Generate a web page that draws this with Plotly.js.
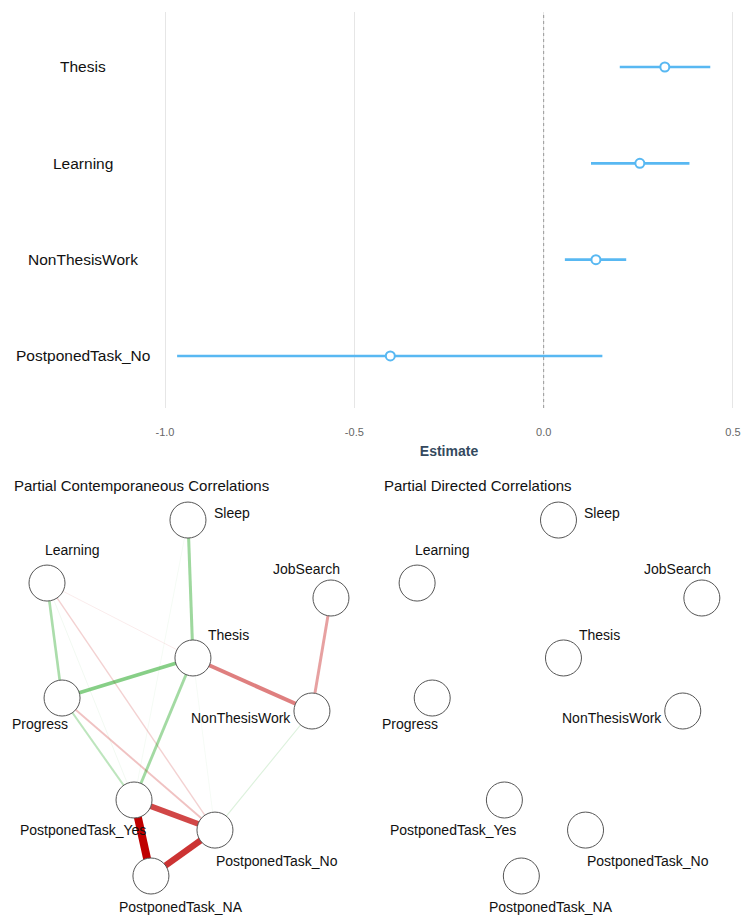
<!DOCTYPE html>
<html>
<head>
<meta charset="utf-8">
<script src="https://cdn.plot.ly/plotly-3.0.1.min.js"></script>
<style>
  html, body { margin: 0; padding: 0; background: #ffffff; }
  #chart { width: 742px; height: 918px; }
</style>
</head>
<body>
<div id="chart"></div>
<script>
// ---- Fixed-effect estimates with 95% intervals ----
const predictors = ["PostponedTask_No", "NonThesisWork", "Learning", "Thesis"];
const estimate   = [-0.405, 0.138, 0.254, 0.320];
const lower      = [-0.968, 0.056, 0.125, 0.201];
const upper      = [ 0.155, 0.218, 0.385, 0.440];
const xTickVals  = [-1, -0.5, 0, 0.5];
const xTickText  = ["-1.0", "-0.5", "0.0", "0.5"];

// ---- Network nodes (layout coordinates in [-1, 1]) ----
const nodeNames = ["Sleep", "Learning", "JobSearch", "Thesis", "Progress",
                   "NonThesisWork", "PostponedTask_Yes", "PostponedTask_No", "PostponedTask_NA"];
const nodeX = [-0.007, -1.000, 1.000, 0.028, -0.894, 0.866, -0.387, 0.183, -0.268];
const nodeY = [ 1.000,  0.646, 0.562, 0.225,  0.000, -0.073, -0.573, -0.742, -1.000];

// ---- Contemporaneous partial correlations (edge list) ----
const edgeFrom   = ["PostponedTask_Yes", "PostponedTask_No", "PostponedTask_Yes", "Thesis", "JobSearch",
                    "Progress", "Sleep", "Learning", "Thesis", "Progress", "Progress",
                    "Learning", "Learning", "NonThesisWork", "Learning", "Sleep", "Thesis"];
const edgeTo     = ["PostponedTask_NA", "PostponedTask_NA", "PostponedTask_No", "NonThesisWork", "NonThesisWork",
                    "Thesis", "Thesis", "Progress", "PostponedTask_Yes", "PostponedTask_Yes", "PostponedTask_No",
                    "PostponedTask_No", "Thesis", "PostponedTask_No", "PostponedTask_Yes", "PostponedTask_Yes", "PostponedTask_No"];
const edgeWeight = [-0.50, -0.40, -0.36, -0.25, -0.185,
                     0.235, 0.19, 0.165, 0.18, 0.13, -0.12,
                    -0.09, -0.05, 0.07, 0.035, 0.03, 0.025];

// ---- Directed (lagged) partial correlations: none retained ----
const directedFrom = [];
const directedTo = [];
const directedWeight = [];

// ---------------------------------------------------------------
const FONT = "Liberation Sans, Arial, Helvetica, sans-serif";
const BLUE = "#58b8f2";
const POS = [0, 153, 0];      // positive edge hue
const NEG = [191, 0, 0];      // negative edge hue
const MAXW = 0.5;
const NODE_SIZE = 36;

const yIndex = predictors.map((_, i) => i);

const traces = [];

// forest plot
traces.push({
  type: "scatter", mode: "markers",
  x: estimate, y: yIndex,
  xaxis: "x", yaxis: "y",
  error_x: {
    type: "data", symmetric: false,
    array: upper.map((u, i) => u - estimate[i]),
    arrayminus: lower.map((l, i) => estimate[i] - l),
    color: BLUE, thickness: 2.6, width: 0
  },
  marker: { size: 9, color: "#ffffff", line: { color: BLUE, width: 2 } },
  hoverinfo: "skip", showlegend: false
});

function edgeStyle(w) {
  const a = Math.min(1, Math.abs(w) / MAXW);
  const c = w > 0 ? POS : NEG;
  return {
    color: "rgba(" + c[0] + "," + c[1] + "," + c[2] + "," + a.toFixed(3) + ")",
    width: Math.max(0.8, 8 * a)
  };
}

function addNetwork(from, to, weight, xa, ya) {
  // edges drawn weakest first so strong edges sit on top
  const order = weight.map((w, i) => i).sort((a, b) => Math.abs(weight[a]) - Math.abs(weight[b]));
  order.forEach(i => {
    const s = nodeNames.indexOf(from[i]);
    const t = nodeNames.indexOf(to[i]);
    const st = edgeStyle(weight[i]);
    traces.push({
      type: "scatter", mode: "lines",
      x: [nodeX[s], nodeX[t]], y: [nodeY[s], nodeY[t]],
      xaxis: xa, yaxis: ya,
      line: { color: st.color, width: st.width },
      hoverinfo: "skip", showlegend: false
    });
  });
  traces.push({
    type: "scatter", mode: "markers",
    x: nodeX, y: nodeY, xaxis: xa, yaxis: ya,
    marker: { size: NODE_SIZE, color: "#ffffff", line: { color: "#555555", width: 1 } },
    hoverinfo: "skip", showlegend: false
  });
}

addNetwork(edgeFrom, edgeTo, edgeWeight, "x2", "y2");
addNetwork(directedFrom, directedTo, directedWeight, "x3", "y3");

// label placement around each node (pixels)
const labelPlace = {
  "Sleep":             { anchor: "left",   dx: 24,  dy: 7 },
  "Learning":          { anchor: "center", dx: 25,  dy: 33 },
  "JobSearch":         { anchor: "center", dx: -24, dy: 29 },
  "Thesis":            { anchor: "center", dx: 36,  dy: 23 },
  "Progress":          { anchor: "center", dx: -22, dy: -26 },
  "NonThesisWork":     { anchor: "right",  dx: -19, dy: -7 },
  "PostponedTask_Yes": { anchor: "center", dx: -51, dy: -30 },
  "PostponedTask_No":  { anchor: "center", dx: 62,  dy: -31 },
  "PostponedTask_NA":  { anchor: "center", dx: 30,  dy: -31 }
};

const annotations = [];

// predictor labels, centred in the left margin
predictors.forEach((p, i) => {
  annotations.push({
    xref: "paper", yref: "y", x: 83 / 742, y: i,
    xanchor: "center", yanchor: "middle",
    text: p, showarrow: false,
    font: { family: FONT, size: 15.5, color: "#111111" }
  });
});

["x2", "x3"].forEach((xa, k) => {
  const ya = k === 0 ? "y2" : "y3";
  nodeNames.forEach((n, i) => {
    const lp = labelPlace[n];
    annotations.push({
      xref: xa, yref: ya, x: nodeX[i], y: nodeY[i],
      xanchor: lp.anchor, yanchor: "middle",
      xshift: lp.dx, yshift: lp.dy,
      text: n, showarrow: false,
      font: { family: FONT, size: 14, color: "#111111" }
    });
  });
});

annotations.push({
  xref: "paper", yref: "paper", x: 12 / 742, y: 1 - 485 / 918,
  xanchor: "left", yanchor: "middle", showarrow: false,
  text: "Partial Contemporaneous Correlations",
  font: { family: FONT, size: 15, color: "#111111" }
});
annotations.push({
  xref: "paper", yref: "paper", x: 382 / 742, y: 1 - 485 / 918,
  xanchor: "left", yanchor: "middle", showarrow: false,
  text: "Partial Directed Correlations",
  font: { family: FONT, size: 15, color: "#111111" }
});

const hiddenAxis = {
  showgrid: false, zeroline: false, showline: false,
  showticklabels: false, ticks: "", fixedrange: true
};
const netXRange = [-1.331, 1.282];
const netYRange = [-1.236, 1.343];

const layout = {
  width: 742, height: 918,
  margin: { l: 0, r: 0, t: 0, b: 0 },
  paper_bgcolor: "#ffffff", plot_bgcolor: "#ffffff",
  font: { family: FONT },
  showlegend: false,
  xaxis: {
    domain: [163 / 742, 735 / 742],
    range: [-1.0053, 0.5053],
    tickvals: xTickVals, ticktext: xTickText,
    ticks: "outside", ticklen: 14, tickcolor: "rgba(0,0,0,0)",
    tickfont: { family: FONT, size: 11, color: "#666666" },
    showgrid: true, gridcolor: "#e6e6e6", gridwidth: 1,
    zeroline: false, showline: false,
    title: { text: "<b>Estimate</b>", standoff: 8,
             font: { family: FONT, size: 14, color: "#34495e" } },
    anchor: "y", fixedrange: true
  },
  yaxis: {
    domain: [1 - 408 / 918, 1 - 12 / 918],
    range: [-0.54, 3.571],
    showgrid: false, zeroline: false, showline: false,
    showticklabels: false, ticks: "", anchor: "x", fixedrange: true
  },
  xaxis2: Object.assign({}, hiddenAxis, { domain: [0, 0.5], range: netXRange, anchor: "y2" }),
  yaxis2: Object.assign({}, hiddenAxis, { domain: [0, 0.5], range: netYRange, anchor: "x2" }),
  xaxis3: Object.assign({}, hiddenAxis, { domain: [370 / 742, 1], range: netXRange, anchor: "y3" }),
  yaxis3: Object.assign({}, hiddenAxis, { domain: [0, 0.5], range: netYRange, anchor: "x3" }),
  shapes: [{
    type: "line", xref: "x", yref: "y domain",
    x0: 0, x1: 0, y0: 0, y1: 1,
    line: { color: "#999999", width: 1, dash: "dot" }
  }],
  annotations: annotations
};

Plotly.newPlot("chart", traces, layout, { displayModeBar: false, staticPlot: true });
</script>
</body>
</html>
